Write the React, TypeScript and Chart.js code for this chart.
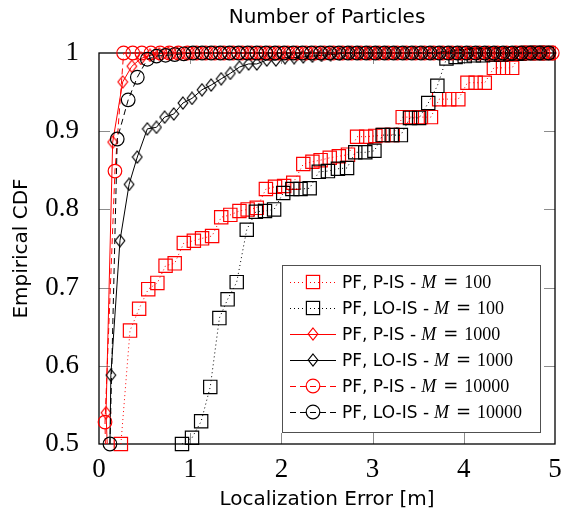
import { useEffect, useRef } from 'react';
import { Chart, registerables } from 'chart.js';

Chart.register(...registerables);

const TITLE = 'Number of Particles';
const X_LABEL = 'Localization Error [m]';
const Y_LABEL = 'Empirical CDF';

const xTickValues = [0, 1, 2, 3, 4, 5];
const xTickLabels = ['0', '1', '2', '3', '4', '5'];
const yTickValues = [0.5, 0.6, 0.7, 0.8, 0.9, 1];
const yTickLabels = ['0.5', '0.6', '0.7', '0.8', '0.9', '1'];

const legendPrefixes = ['PF, P-IS -', 'PF, LO-IS -', 'PF, P-IS -', 'PF, LO-IS -', 'PF, P-IS -', 'PF, LO-IS -'];
const legendM = ['100', '100', '1000', '1000', '10000', '10000'];

// PF, P-IS - M = 100
const pis100X = [0.24, 0.34, 0.44, 0.54, 0.64, 0.73, 0.83, 0.93, 1.04, 1.13, 1.24, 1.34, 1.44, 1.54, 1.63, 1.73, 1.83, 1.93, 2.03, 2.13, 2.24, 2.34, 2.43, 2.53, 2.63, 2.73, 2.83, 2.93, 3.03, 3.12, 3.22, 3.33, 3.43, 3.53, 3.64, 3.73, 3.84, 3.94, 4.04, 4.13, 4.23, 4.33, 4.43, 4.53, 4.63, 4.73, 4.83, 4.93];
const pis100Y = [0.5, 0.645, 0.673, 0.698, 0.706, 0.728, 0.731, 0.757, 0.76, 0.763, 0.766, 0.79, 0.793, 0.798, 0.8, 0.802, 0.826, 0.829, 0.83, 0.834, 0.858, 0.861, 0.863, 0.866, 0.868, 0.87, 0.893, 0.893, 0.894, 0.895, 0.895, 0.918, 0.918, 0.918, 0.918, 0.941, 0.941, 0.941, 0.962, 0.962, 0.962, 0.981, 0.981, 0.981, 1, 1, 1, 1];

// PF, LO-IS - M = 100
const lois100X = [0.91, 1.02, 1.12, 1.22, 1.32, 1.41, 1.51, 1.62, 1.72, 1.82, 1.92, 2.02, 2.12, 2.21, 2.31, 2.41, 2.51, 2.62, 2.72, 2.81, 2.92, 3.02, 3.11, 3.21, 3.31, 3.41, 3.51, 3.61, 3.71, 3.81, 3.91, 4.01, 4.11, 4.21, 4.31, 4.41, 4.51, 4.61, 4.71, 4.81, 4.91];
const lois100Y = [0.5, 0.508, 0.529, 0.573, 0.661, 0.685, 0.707, 0.774, 0.797, 0.798, 0.8, 0.821, 0.826, 0.826, 0.827, 0.848, 0.849, 0.852, 0.853, 0.873, 0.873, 0.875, 0.895, 0.895, 0.895, 0.917, 0.917, 0.936, 0.958, 0.993, 0.995, 0.996, 0.997, 0.997, 0.998, 0.998, 0.999, 0.999, 1, 1, 1];

// PF, P-IS - M = 1000
const pis1000X = [0.09, 0.077, 0.15, 0.26, 0.36, 0.46, 0.56, 0.66, 0.76, 0.86, 0.96, 1.06, 1.16, 1.26, 1.36, 1.46, 1.56, 1.66, 1.76, 1.86, 1.96, 2.06, 2.16, 2.26, 2.36, 2.46, 2.56, 2.66, 2.76, 2.86, 2.96, 3.06, 3.16, 3.26, 3.36, 3.46, 3.56, 3.66, 3.76, 3.86, 3.96, 4.06, 4.16, 4.26, 4.36, 4.46, 4.56, 4.66, 4.76, 4.86, 4.96];
const pis1000Y = [0.5, 0.54, 0.886, 0.963, 0.983, 0.993, 0.997, 0.999, 1, 1, 1, 1, 1, 1, 1, 1, 1, 1, 1, 1, 1, 1, 1, 1, 1, 1, 1, 1, 1, 1, 1, 1, 1, 1, 1, 1, 1, 1, 1, 1, 1, 1, 1, 1, 1, 1, 1, 1, 1, 1, 1];

// PF, LO-IS - M = 1000
const lois1000X = [0.12, 0.13, 0.23, 0.33, 0.42, 0.53, 0.63, 0.72, 0.82, 0.92, 1.02, 1.13, 1.23, 1.34, 1.44, 1.54, 1.64, 1.73, 1.84, 1.94, 2.04, 2.14, 2.24, 2.34, 2.44, 2.54, 2.64, 2.74, 2.84, 2.94, 3.04, 3.14, 3.24, 3.34, 3.44, 3.54, 3.64, 3.74, 3.84, 3.94, 4.04, 4.14, 4.24, 4.34, 4.44, 4.54, 4.64, 4.74, 4.84, 4.94];
const lois1000Y = [0.5, 0.588, 0.76, 0.832, 0.867, 0.903, 0.905, 0.918, 0.922, 0.936, 0.942, 0.953, 0.959, 0.967, 0.974, 0.982, 0.986, 0.986, 0.991, 0.991, 0.994, 0.994, 0.995, 0.996, 0.997, 0.998, 0.999, 1, 1, 1, 1, 1, 1, 1, 1, 1, 1, 1, 1, 1, 1, 1, 1, 1, 1, 1, 1, 1, 1, 1];

// PF, P-IS - M = 10000
const pis10000X = [0.07, 0.066, 0.175, 0.27, 0.37, 0.47, 0.57, 0.67, 0.77, 0.87, 0.97, 1.07, 1.17, 1.27, 1.37, 1.47, 1.57, 1.67, 1.77, 1.87, 1.97, 2.07, 2.17, 2.27, 2.37, 2.47, 2.57, 2.67, 2.77, 2.87, 2.97, 3.07, 3.17, 3.27, 3.37, 3.47, 3.57, 3.67, 3.77, 3.87, 3.97, 4.07, 4.17, 4.27, 4.37, 4.47, 4.57, 4.67, 4.77, 4.87, 4.97];
const pis10000Y = [0.5, 0.528, 0.849, 1, 1, 1, 1, 1, 1, 1, 1, 1, 1, 1, 1, 1, 1, 1, 1, 1, 1, 1, 1, 1, 1, 1, 1, 1, 1, 1, 1, 1, 1, 1, 1, 1, 1, 1, 1, 1, 1, 1, 1, 1, 1, 1, 1, 1, 1, 1, 1];

// PF, LO-IS - M = 10000
const lois10000X = [0.12, 0.2, 0.32, 0.42, 0.53, 0.63, 0.73, 0.83, 0.93, 1.03, 1.13, 1.23, 1.33, 1.43, 1.53, 1.63, 1.73, 1.83, 1.93, 2.03, 2.13, 2.23, 2.33, 2.43, 2.53, 2.63, 2.73, 2.83, 2.93, 3.03, 3.13, 3.23, 3.33, 3.43, 3.53, 3.63, 3.73, 3.83, 3.93, 4.03, 4.13, 4.23, 4.33, 4.43, 4.53, 4.63, 4.73, 4.83, 4.93];
const lois10000Y = [0.5, 0.89, 0.94, 0.969, 0.992, 0.996, 0.997, 0.998, 0.999, 1, 1, 1, 1, 1, 1, 1, 1, 1, 1, 1, 1, 1, 1, 1, 1, 1, 1, 1, 1, 1, 1, 1, 1, 1, 1, 1, 1, 1, 1, 1, 1, 1, 1, 1, 1, 1, 1, 1, 1];

const RED = '#ff0000';
const BLACK = '#000000';
const SANS = '"DejaVu Sans", sans-serif';
const SERIF = '"Liberation Serif", serif';

function makeDiamond(color: string): HTMLCanvasElement {
  const c = document.createElement('canvas');
  c.width = 12;
  c.height = 14;
  const g = c.getContext('2d')!;
  g.strokeStyle = color;
  g.lineWidth = 1.2;
  g.beginPath();
  g.moveTo(6, 1);
  g.lineTo(10.8, 7);
  g.lineTo(6, 13);
  g.lineTo(1.2, 7);
  g.closePath();
  g.stroke();
  return c;
}

export default function App() {
  const ref = useRef<HTMLCanvasElement>(null);

  useEffect(() => {
    const canvas = ref.current!;
    const diaRed = makeDiamond(RED);
    const diaBlack = makeDiamond(BLACK);

    const specs = [
      { x: pis100X, y: pis100Y, color: RED, dash: [1, 3], marker: 'rect', radius: 9.4, lead: 0 },
      { x: lois100X, y: lois100Y, color: BLACK, dash: [1, 3], marker: 'rect', radius: 9.4, lead: 0 },
      { x: pis1000X, y: pis1000Y, color: RED, dash: [], marker: 'diamond', radius: 6, lead: 1 },
      { x: lois1000X, y: lois1000Y, color: BLACK, dash: [], marker: 'diamond', radius: 6, lead: 1 },
      { x: pis10000X, y: pis10000Y, color: RED, dash: [6, 4], marker: 'circle', radius: 6.8, lead: 1 },
      { x: lois10000X, y: lois10000Y, color: BLACK, dash: [6, 4], marker: 'circle', radius: 6.8, lead: 0 },
    ];

    const datasets = specs.map((s, i) => ({
      label: legendPrefixes[i] + ' M = ' + legendM[i],
      data: s.x.map((xv, j) => ({ x: xv, y: s.y[j] })),
      borderColor: s.color,
      backgroundColor: 'transparent',
      borderWidth: 1,
      borderDash: s.dash,
      pointStyle: s.marker === 'diamond' ? (s.color === RED ? diaRed : diaBlack) : s.marker,
      pointRadius: (c: any) => (c.dataIndex < s.lead ? 0 : s.radius),
      pointBorderColor: s.color,
      pointBackgroundColor: 'transparent',
      pointBorderWidth: 1.2,
      clip: false as any,
      order: 6 - i,
      tension: 0,
    }));

    const deco = {
      id: 'deco',
      beforeDatasetsDraw(chart: any) {
        const { ctx, chartArea } = chart;
        const { left, right, top, bottom } = chartArea;
        const xs = chart.scales.x;
        const ys = chart.scales.y;
        ctx.save();
        ctx.strokeStyle = '#8c8c8c';
        ctx.lineWidth = 1;
        ctx.beginPath();
        xTickValues.slice(1, -1).forEach((v) => {
          const px = Math.round(xs.getPixelForValue(v)) + 0.5;
          ctx.moveTo(px, bottom);
          ctx.lineTo(px, bottom - 11);
          ctx.moveTo(px, top);
          ctx.lineTo(px, top + 11);
        });
        yTickValues.slice(1, -1).forEach((v) => {
          const py = Math.round(ys.getPixelForValue(v)) + 0.5;
          ctx.moveTo(left, py);
          ctx.lineTo(left + 11, py);
          ctx.moveTo(right, py);
          ctx.lineTo(right - 11, py);
        });
        ctx.stroke();
        ctx.strokeStyle = '#000';
        ctx.lineWidth = 1.3;
        ctx.strokeRect(left, top, right - left, bottom - top);
        ctx.restore();
      },
      afterDraw(chart: any) {
        const { ctx } = chart;
        ctx.save();
        const lx = 282, ly = 265, lw = 258, lh = 167;
        ctx.fillStyle = '#fff';
        ctx.fillRect(lx, ly, lw, lh);
        ctx.strokeStyle = '#505050';
        ctx.lineWidth = 1;
        ctx.strokeRect(lx + 0.5, ly + 0.5, lw, lh);
        specs.forEach((s, i) => {
          const ry = 282 + 26 * i;
          ctx.strokeStyle = s.color;
          ctx.lineWidth = 1;
          ctx.setLineDash(s.dash);
          ctx.beginPath();
          ctx.moveTo(290, ry + 0.5);
          ctx.lineTo(336, ry + 0.5);
          ctx.stroke();
          ctx.setLineDash([]);
          ctx.lineWidth = 1.2;
          const mx = 313;
          if (s.marker === 'rect') {
            ctx.strokeRect(mx - 6.6, ry - 6.6, 13.2, 13.2);
          } else if (s.marker === 'circle') {
            ctx.beginPath();
            ctx.arc(mx, ry, 6.8, 0, Math.PI * 2);
            ctx.stroke();
          } else {
            const img = s.color === RED ? diaRed : diaBlack;
            ctx.drawImage(img, mx - 6, ry - 7);
          }
          ctx.fillStyle = '#000';
          ctx.textBaseline = 'alphabetic';
          ctx.textAlign = 'left';
          const base = ry + 6;
          ctx.font = '17px ' + SANS;
          ctx.fillText(legendPrefixes[i], 342, base);
          const mStart = 342 + ctx.measureText(legendPrefixes[i]).width + 5;
          ctx.font = 'italic 18px ' + SERIF;
          ctx.fillText('M', mStart, base);
          ctx.font = '18px "DejaVu Serif", serif';
          ctx.textAlign = 'center';
          ctx.fillText('=', mStart + 29.5, base);
          ctx.textAlign = 'left';
          ctx.font = '18px ' + SERIF;
          ctx.fillText(legendM[i], mStart + 43, base);
        });
        ctx.restore();
      },
    };

    const chart = new Chart(canvas, {
      type: 'line',
      data: { datasets: datasets as any },
      options: {
        animation: false,
        responsive: false,
        devicePixelRatio: 1,
        layout: { autoPadding: false, padding: { left: 0, right: 6, top: 0, bottom: 0 } },
        plugins: {
          legend: { display: false },
          tooltip: { enabled: false },
          title: {
            display: true,
            text: TITLE,
            fullSize: false,
            color: '#000',
            font: { family: SANS, size: 20, weight: 'normal' as any },
            padding: { top: 6, bottom: 23 },
          },
        },
        scales: {
          x: {
            type: 'linear',
            min: 0,
            max: 5,
            afterBuildTicks: (s: any) => {
              s.ticks = xTickValues.map((v) => ({ value: v }));
            },
            ticks: {
              font: { family: SERIF, size: 27 },
              color: '#000',
              padding: 2,
              maxRotation: 0,
              autoSkip: false,
              callback: (v: any) => xTickLabels[xTickValues.indexOf(Number(v))] ?? '',
            },
            grid: { display: false },
            border: { display: false },
            title: {
              display: true,
              text: X_LABEL,
              color: '#000',
              font: { family: SANS, size: 20 },
              padding: { top: 0, bottom: 3 },
            },
            afterFit: (s: any) => {
              s.height = 71;
              s.paddingLeft = 0;
              s.paddingRight = 0;
            },
          },
          y: {
            type: 'linear',
            min: 0.5,
            max: 1,
            afterBuildTicks: (s: any) => {
              s.ticks = yTickValues.map((v) => ({ value: v }));
            },
            ticks: {
              font: { family: SERIF, size: 27 },
              color: '#000',
              padding: 12,
              autoSkip: false,
              callback: (v: any) => {
                const k = yTickValues.findIndex((t) => Math.abs(t - Number(v)) < 1e-6);
                return k >= 0 ? yTickLabels[k] : '';
              },
            },
            grid: { display: false },
            border: { display: false },
            title: {
              display: true,
              text: Y_LABEL,
              color: '#000',
              font: { family: SANS, size: 20 },
              padding: { top: 10, bottom: 0 },
            },
            afterFit: (s: any) => {
              s.width = 99;
              s.paddingTop = 0;
              s.paddingBottom = 0;
            },
          },
        },
      },
      plugins: [deco],
    });

    return () => chart.destroy();
  }, []);

  return (
    <div style={{ position: 'fixed', left: 0, top: 0, width: 561, height: 515, background: '#fff' }}>
      <canvas ref={ref} width={561} height={515} style={{ display: 'block' }} />
    </div>
  );
}
